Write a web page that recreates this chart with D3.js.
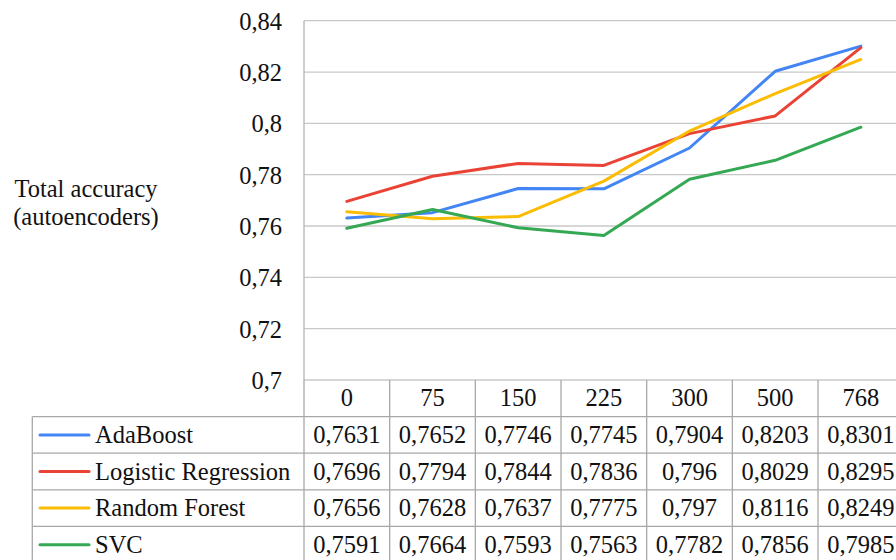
<!DOCTYPE html>
<html>
<head>
<meta charset="utf-8">
<script src="https://cdn.jsdelivr.net/npm/d3@7"></script>
<style>
  html, body { margin: 0; padding: 0; background: #fff; overflow: hidden; }
  svg { display: block; }
</style>
</head>
<body>
<svg id="chart" width="896" height="560"></svg>
<script>
// Encoding sizes (columns of the data table)
const categories = ["0", "75", "150", "225", "300", "500", "768"];

// Total accuracy per classifier
const seriesNames = ["AdaBoost", "Logistic Regression", "Random Forest", "SVC"];
const adaBoost      = [0.7631, 0.7652, 0.7746, 0.7745, 0.7904, 0.8203, 0.8301];
const logisticReg   = [0.7696, 0.7794, 0.7844, 0.7836, 0.796, 0.8029, 0.8295];
const randomForest  = [0.7656, 0.7628, 0.7637, 0.7775, 0.797, 0.8116, 0.8249];
const svc           = [0.7591, 0.7664, 0.7593, 0.7563, 0.7782, 0.7856, 0.7985];
const seriesColors  = ["#4285F4", "#EA4335", "#FBBC04", "#34A853"];

// Value axis ticks
const yTicks      = [0.70, 0.72, 0.74, 0.76, 0.78, 0.80, 0.82, 0.84];
const yTickLabels = ["0,7", "0,72", "0,74", "0,76", "0,78", "0,8", "0,82", "0,84"];

const seriesValues = [adaBoost, logisticReg, randomForest, svc];

const svg = d3.select("#chart");
const serif = "Liberation Serif";

const plotLeft = 304, plotTop = 20.7, plotBottom = 380;
const colW = 85.67, rowH = 36.6;
const tableLeft = 32.3;
const fs = 24.5;

const x = d3.scaleBand().domain(categories).range([plotLeft, plotLeft + colW * categories.length]).padding(0);
const y = d3.scaleLinear().domain([0.70, 0.84]).range([plotBottom, plotTop]);

// Horizontal gridlines
svg.append("g").selectAll("line").data(yTicks).join("line")
  .attr("x1", plotLeft).attr("x2", 896)
  .attr("y1", d => y(d)).attr("y2", d => y(d))
  .attr("stroke", "#c8c8c8").attr("stroke-width", 1.3);

// Vertical axis line
svg.append("line")
  .attr("x1", plotLeft).attr("x2", plotLeft)
  .attr("y1", y(0.84)).attr("y2", plotBottom)
  .attr("stroke", "#b4b4b4").attr("stroke-width", 1.3);

// Tick labels
svg.append("g").selectAll("text").data(yTicks).join("text")
  .attr("x", 282).attr("y", d => y(d) + 9)
  .attr("text-anchor", "end").attr("font-size", fs).attr("font-family", serif).attr("fill", "#111")
  .text((d, i) => yTickLabels[i]);

// Axis title
const title = svg.append("text").attr("font-size", fs).attr("font-family", serif).attr("fill", "#111").attr("text-anchor", "middle");
title.append("tspan").attr("x", 86).attr("y", 196.5).text("Total accuracy");
title.append("tspan").attr("x", 86).attr("y", 225).text("(autoencoders)");

// Series lines
const line = d3.line()
  .x((d, i) => x(categories[i]) + x.bandwidth() / 2)
  .y(d => y(d));

svg.append("g").selectAll("path").data(seriesValues).join("path")
  .attr("d", d => line(d))
  .attr("fill", "none")
  .attr("stroke", (d, i) => seriesColors[i])
  .attr("stroke-width", 3)
  .attr("stroke-linejoin", "round")
  .attr("stroke-linecap", "round");

// Data table
const tableRight = plotLeft + colW * categories.length;
const headerTop = plotBottom;
const rowsTop = headerTop + rowH;
const tableBottom = rowsTop + rowH * seriesNames.length;
const grid = svg.append("g").attr("stroke", "#a8a8a8").attr("stroke-width", 1.3);

// Horizontal rules of the table
d3.range(seriesNames.length + 1).forEach(i => {
  const yy = rowsTop + i * rowH;
  grid.append("line").attr("x1", tableLeft).attr("x2", tableRight).attr("y1", yy).attr("y2", yy);
});
// Column rules
d3.range(categories.length + 1).forEach(i => {
  const xx = plotLeft + i * colW;
  grid.append("line").attr("x1", xx).attr("x2", xx).attr("y1", headerTop).attr("y2", tableBottom);
});
// Legend column left rule
grid.append("line").attr("x1", tableLeft).attr("x2", tableLeft).attr("y1", rowsTop).attr("y2", tableBottom);

// Header labels
svg.append("g").selectAll("text").data(categories).join("text")
  .attr("x", d => x(d) + x.bandwidth() / 2)
  .attr("y", headerTop + rowH / 2 + 8)
  .attr("text-anchor", "middle").attr("font-size", fs).attr("font-family", serif).attr("fill", "#111")
  .text(d => d);

// Legend rows
const legend = svg.append("g").selectAll("g").data(seriesNames).join("g")
  .attr("transform", (d, i) => `translate(0, ${rowsTop + i * rowH + rowH / 2})`);
legend.append("line")
  .attr("x1", 40).attr("x2", 89).attr("y1", 0).attr("y2", 0)
  .attr("stroke", (d, i) => seriesColors[i]).attr("stroke-width", 3).attr("stroke-linecap", "round");
legend.append("text")
  .attr("x", 95).attr("y", 8).attr("font-size", fs).attr("font-family", serif).attr("fill", "#111")
  .text(d => d);

// Value cells
seriesValues.forEach((vals, r) => {
  svg.append("g").selectAll("text").data(vals).join("text")
    .attr("x", (d, i) => x(categories[i]) + x.bandwidth() / 2)
    .attr("y", rowsTop + r * rowH + rowH / 2 + 8)
    .attr("text-anchor", "middle").attr("font-size", fs).attr("font-family", serif).attr("fill", "#111")
    .text(d => String(d).replace(".", ","));
});
</script>
</body>
</html>
